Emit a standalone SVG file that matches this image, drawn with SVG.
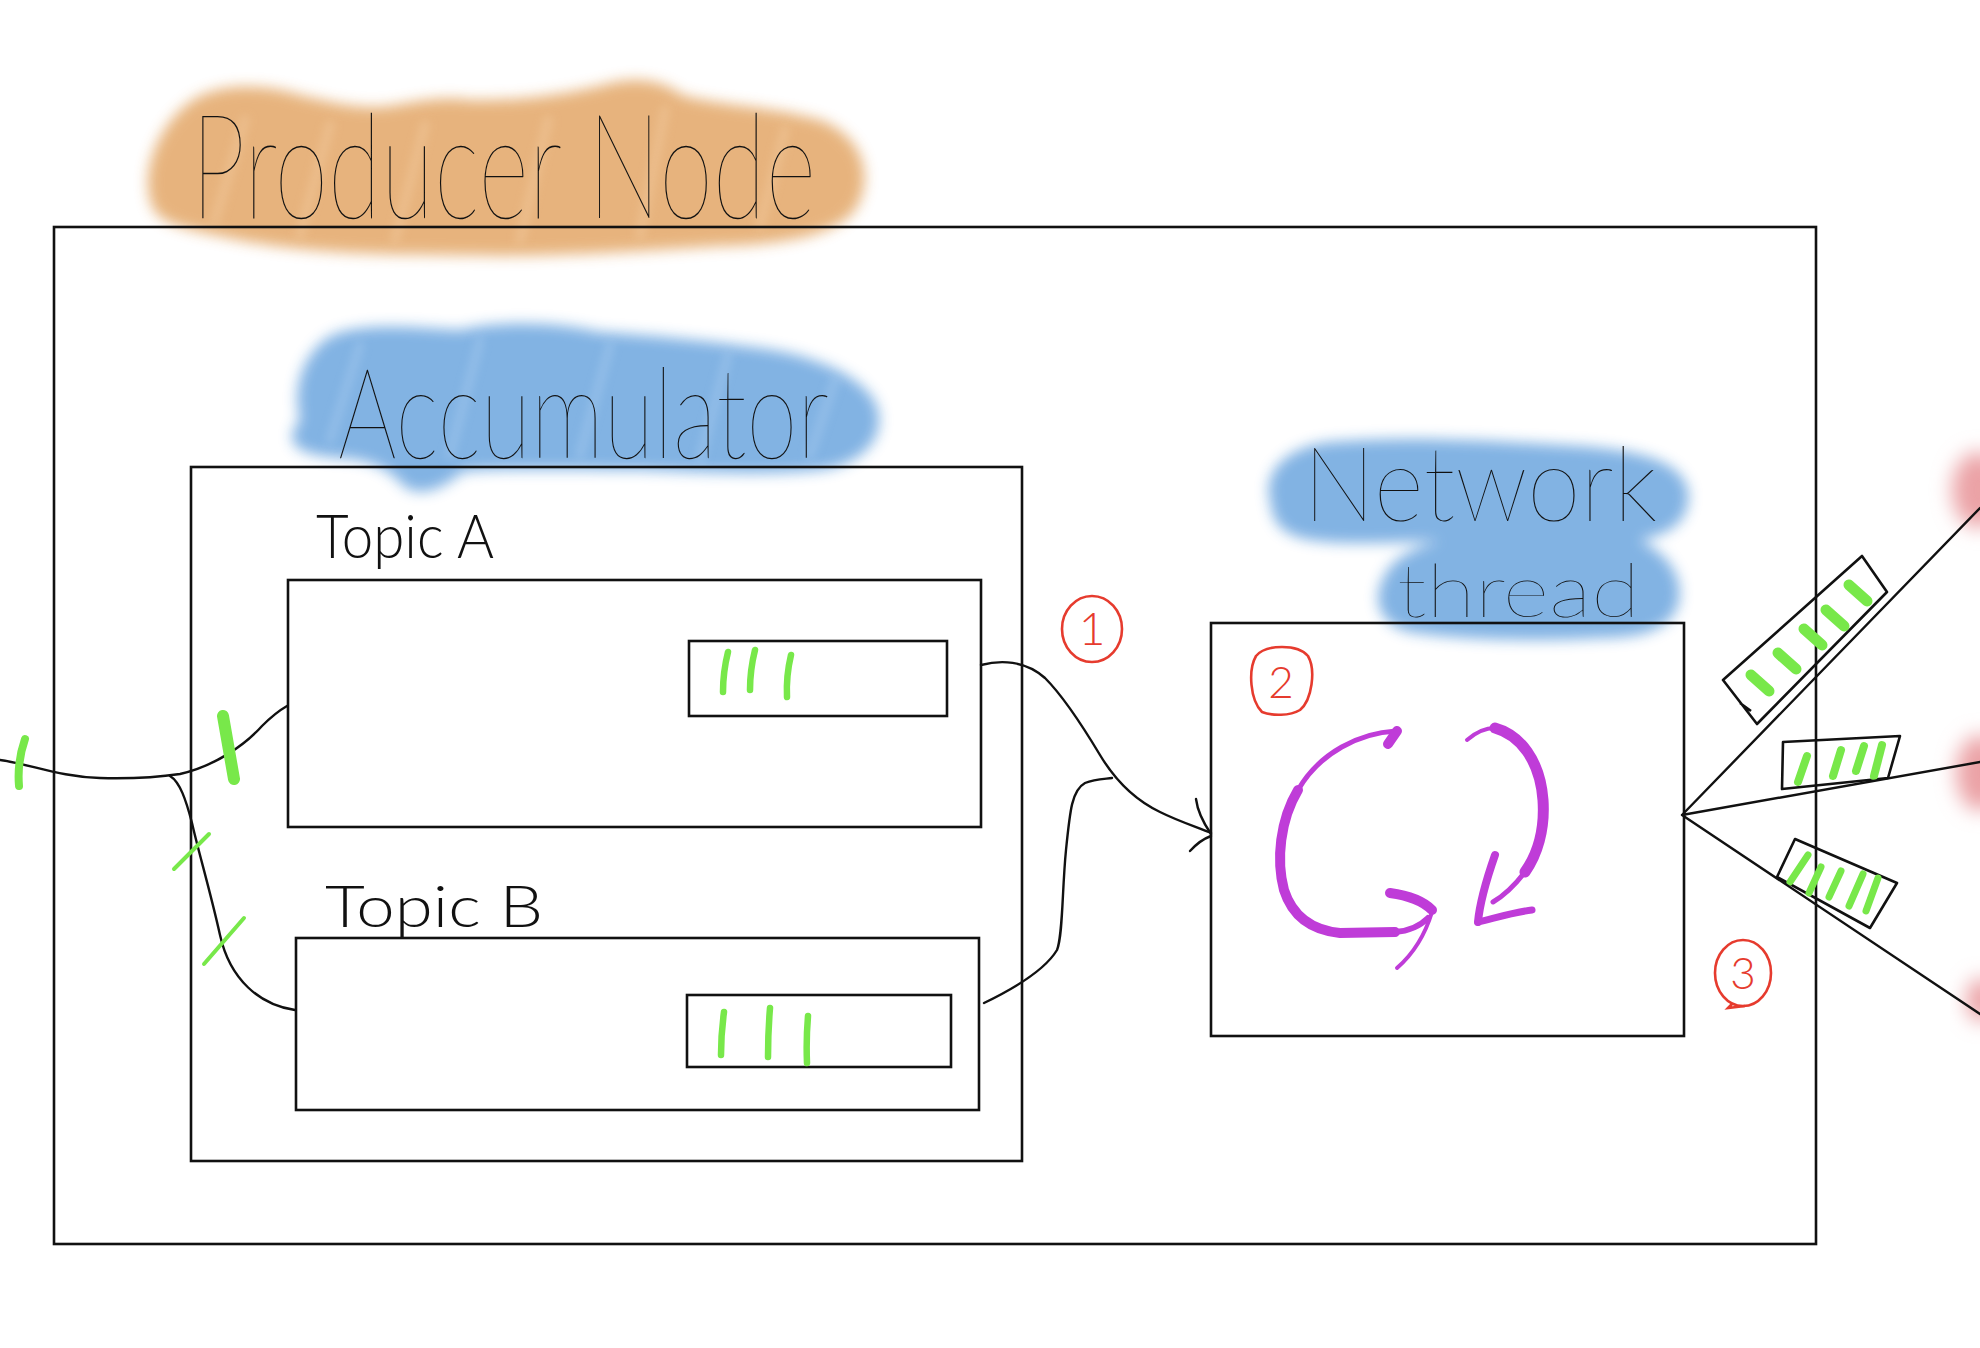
<svg xmlns="http://www.w3.org/2000/svg" width="1980" height="1348" viewBox="0 0 1980 1348">
<style>
.box{fill:none;stroke:#111;stroke-width:2.6}
.wire{fill:none;stroke:#111;stroke-width:2.4;stroke-linecap:round;stroke-linejoin:round}
.grn{fill:none;stroke:#78E84A;stroke-linecap:round}
.pur{fill:none;stroke:#BF3CD8;stroke-linecap:round;stroke-linejoin:round}
.red{fill:none;stroke:#E63B2E;stroke-width:2.6}
.hand{font-family:Lato,"Open Sans","Liberation Sans",sans-serif;fill:#111}
.num{font-family:Lato,"Liberation Sans",sans-serif;fill:#E63B2E;font-weight:300;text-anchor:middle}
.streak{fill:none;stroke-linecap:round}
</style>
<defs>
<filter id="soft" x="-10%" y="-20%" width="120%" height="140%"><feGaussianBlur stdDeviation="7"/></filter>
<filter id="softer" x="-50%" y="-50%" width="200%" height="200%"><feGaussianBlur stdDeviation="10"/></filter>
<filter id="streakblur" x="-20%" y="-20%" width="140%" height="140%"><feGaussianBlur stdDeviation="4"/></filter>
</defs>
<rect width="1980" height="1348" fill="#fff"/>

<!-- highlight blotches -->
<g id="highlights">
<path fill="#E5AD72" opacity="0.92" filter="url(#soft)" d="M150,200 C140,160 168,112 200,96 C230,82 270,86 300,95 C330,102 360,110 390,106 C420,101 440,96 470,100 C520,101 560,95 600,86 C630,76 660,78 682,95 C720,106 770,106 820,120 C860,135 872,170 860,200 C850,230 800,244 720,246 C650,250 560,258 450,255 C350,255 280,250 220,236 C170,226 155,220 150,200 Z"/>
<g class="streak" stroke="#F0C698" stroke-width="10" opacity="0.55" filter="url(#streakblur)">
<path d="M215,220 L245,120"/><path d="M300,235 L330,125"/><path d="M395,240 L425,125"/><path d="M520,240 L548,120"/><path d="M640,235 L665,110"/><path d="M760,225 L785,130"/>
</g>
<path fill="#7BAFE2" opacity="0.95" filter="url(#soft)" d="M300,420 C290,380 310,345 335,334 C370,322 420,328 460,330 C500,320 560,322 600,332 C650,335 700,340 760,348 C820,356 870,380 878,410 C885,440 860,465 820,470 C760,476 700,472 640,470 C560,470 490,468 462,472 C442,490 422,496 406,488 C395,476 380,460 340,458 C300,455 280,445 300,420 Z"/>
<g class="streak" stroke="#A3C8EE" stroke-width="9" opacity="0.5" filter="url(#streakblur)">
<path d="M330,440 L360,345"/><path d="M450,455 L480,340"/><path d="M580,455 L610,345"/><path d="M700,460 L728,355"/><path d="M810,455 L835,380"/>
</g>
<path fill="#7BAFE2" opacity="0.95" filter="url(#soft)" d="M1270,500 C1262,470 1290,446 1330,442 C1400,436 1480,440 1560,445 C1620,448 1680,455 1688,490 C1692,520 1670,535 1640,540 C1670,555 1685,580 1678,605 C1670,630 1640,638 1600,638 C1540,642 1460,640 1410,632 C1380,625 1370,600 1385,575 C1395,555 1420,546 1440,541 C1380,543 1320,546 1295,536 C1275,528 1272,515 1270,500 Z"/>
<ellipse cx="1978" cy="490" rx="26" ry="38" fill="#EBA2A6" filter="url(#softer)"/>
<ellipse cx="1980" cy="773" rx="24" ry="38" fill="#EBA2A6" filter="url(#softer)"/>
<ellipse cx="1982" cy="1000" rx="16" ry="22" fill="#EBA2A6" filter="url(#softer)"/>
</g>

<g id="producer-node">
<rect class="box" x="54" y="227" width="1762" height="1017"/>
<text class="hand" x="191" y="218" font-size="146" font-weight="200" textLength="625" lengthAdjust="spacingAndGlyphs">Producer Node</text>
</g>

<g id="accumulator">
<rect class="box" x="191" y="467" width="831" height="694"/>
<text class="hand" x="338" y="458" font-size="126" font-weight="200" textLength="491" lengthAdjust="spacingAndGlyphs">Accumulator</text>
</g>

<g id="topic-a">
<rect class="box" x="288" y="580" width="693" height="247"/>
<text class="hand" x="316" y="558" font-size="62" font-weight="300" textLength="178" lengthAdjust="spacingAndGlyphs">Topic A</text>
<rect class="box" x="689" y="641" width="258" height="75"/>
<g class="grn" stroke-width="6.5">
<path d="M728,652 Q723,672 723,692"/>
<path d="M755,650 Q750,670 750,690"/>
<path d="M791,655 Q786,676 787,697"/>
</g>
</g>

<g id="topic-b">
<rect class="box" x="296" y="938" width="683" height="172"/>
<text class="hand" x="325" y="927" font-size="58" font-weight="300" textLength="218" lengthAdjust="spacingAndGlyphs">Topic B</text>
<rect class="box" x="687" y="995" width="264" height="72"/>
<g class="grn" stroke-width="6.5">
<path d="M724,1012 Q721,1034 721,1055"/>
<path d="M770,1008 Q768,1032 768,1057"/>
<path d="M808,1016 Q806,1040 807,1063"/>
</g>
</g>

<g id="network-thread">
<rect class="box" x="1211" y="623" width="473" height="413"/>
<text class="hand" x="1303" y="521" font-size="104" font-weight="200" textLength="354" lengthAdjust="spacingAndGlyphs">Network</text>
<text class="hand" x="1397" y="617" font-size="74" font-weight="200" textLength="243" lengthAdjust="spacingAndGlyphs">thread</text>
<g class="pur">
<path stroke-width="5" d="M1396,731 C1360,733 1320,752 1298,790"/>
<path stroke-width="10" d="M1298,790 C1280,820 1276,860 1284,890 C1292,915 1310,930 1340,933 L1395,932"/>
<path stroke-width="6" d="M1395,932 C1410,931 1420,926 1428,918"/>
<path stroke-width="10" d="M1388,744 L1397,731"/>
<path stroke-width="10" d="M1390,893 C1405,895 1422,900 1432,910"/>
<path stroke-width="4" d="M1432,912 C1425,935 1412,955 1397,968"/>
<path stroke-width="4" d="M1467,740 C1475,733 1485,728 1495,728"/>
<path stroke-width="11" d="M1495,728 C1520,735 1540,760 1543,800 C1545,830 1537,855 1525,872"/>
<path stroke-width="5" d="M1525,872 C1515,885 1505,895 1493,902"/>
<path stroke-width="8" d="M1495,855 C1488,875 1480,900 1478,922"/>
<path stroke-width="7" d="M1478,922 C1495,918 1515,912 1532,910"/>
</g>
</g>

<g id="step-markers">
<ellipse class="red" cx="1092" cy="629" rx="30" ry="33"/>
<text class="num" x="1092" y="645" font-size="46">1</text>
<path class="red" d="M1262,712 C1250,700 1248,670 1256,656 C1266,644 1298,644 1308,656 C1316,670 1312,700 1300,710 C1290,716 1272,716 1262,712 Z"/>
<text class="num" x="1281" y="698" font-size="44">2</text>
<ellipse class="red" cx="1743" cy="973" rx="28" ry="33"/>
<path class="red" d="M1732,1004 L1728,1008 L1745,1006"/>
<text class="num" x="1743" y="989" font-size="44">3</text>
</g>

<g id="batches">
<path class="box" stroke-width="2.4" stroke-linejoin="round" d="M1723,680 L1862,556 L1887,592 L1757,724 Z M1740,703 L1751,711"/>
<g class="grn" stroke-width="11">
<path d="M1751,675 L1769,691"/>
<path d="M1778,653 L1796,669"/>
<path d="M1804,629 L1822,645"/>
<path d="M1826,610 L1844,626"/>
<path d="M1849,585 L1867,601"/>
</g>
<path class="box" stroke-width="2.4" stroke-linejoin="round" d="M1783,742 L1900,736 L1888,778 L1782,789 Z"/>
<g class="grn" stroke-width="8">
<path d="M1798,782 L1807,756"/>
<path d="M1833,776 L1841,750"/>
<path d="M1856,771 L1864,746"/>
<path d="M1874,776 L1882,745"/>
</g>
<path class="box" stroke-width="2.4" stroke-linejoin="round" d="M1795,839 L1897,883 L1870,928 L1777,877 Z"/>
<g class="grn" stroke-width="7">
<path d="M1790,882 L1808,855"/>
<path d="M1809,893 L1821,867"/>
<path d="M1829,897 L1841,871"/>
<path d="M1849,906 L1863,874"/>
<path d="M1866,911 L1878,878"/>
</g>
</g>

<g id="connectors">
<path class="wire" d="M0,760 C30,764 60,777 100,778 S160,777 180,774 C215,766 245,745 262,726 C272,716 280,710 287,706"/>
<path class="wire" d="M170,776 C180,782 186,800 192,823 C198,850 210,890 220,935 C230,980 260,1005 295,1010"/>
<path class="wire" d="M981,665 C1000,660 1025,660 1045,678 C1065,698 1085,730 1100,755 C1115,780 1135,800 1160,812 C1180,822 1200,828 1211,833"/>
<path class="wire" d="M984,1003 C1015,988 1045,970 1057,950 C1063,935 1062,890 1066,850 C1070,810 1072,790 1085,783 C1095,779 1105,779 1112,778"/>
<path class="wire" d="M1196,799 Q1198,815 1211,834 M1190,851 Q1200,840 1211,836"/>
<path class="wire" stroke-width="2.6" d="M1682,815 L1980,508 M1682,815 L1980,762 M1682,815 L1980,1014"/>
<g class="grn">
<path stroke-width="8" d="M25,739 Q17,762 19,786"/>
<path stroke-width="12" d="M223,716 L234,779"/>
<path stroke-width="4" d="M174,869 L209,834"/>
<path stroke-width="4" d="M204,964 L244,918"/>
</g>
</g>
</svg>
